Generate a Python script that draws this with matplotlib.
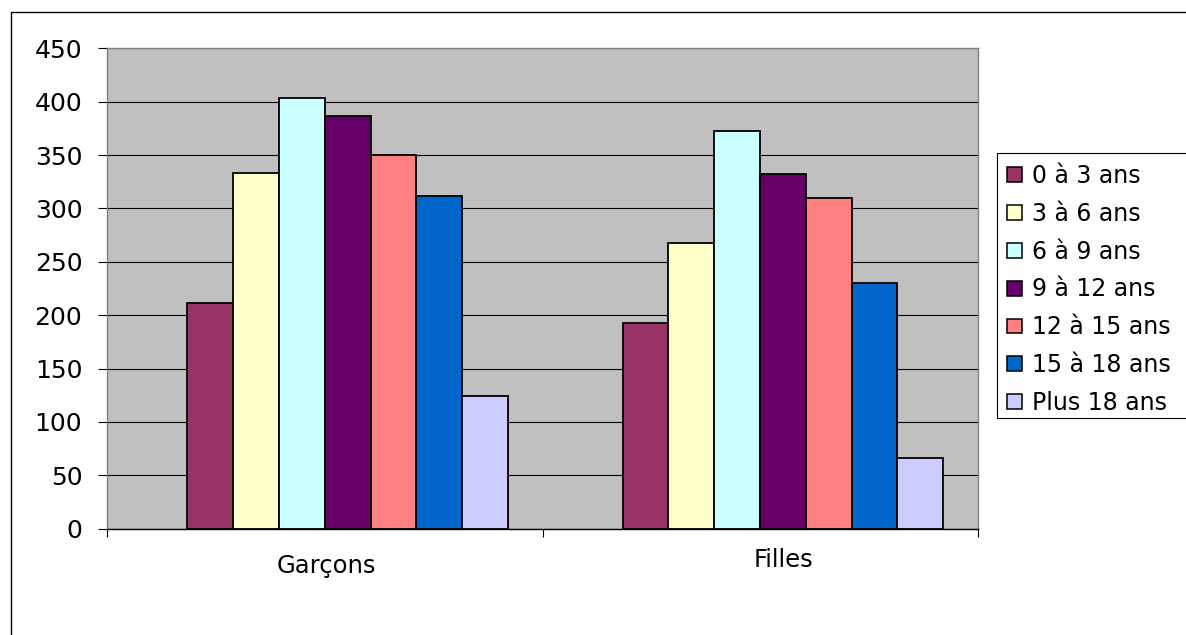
import numpy as np
import matplotlib
matplotlib.use("Agg")
import matplotlib.pyplot as plt
from matplotlib.patches import Rectangle

# effectifs par sexe et tranche d'age
categories = ["Garçons", "Filles"]
tranches = ["0 à 3 ans", "3 à 6 ans", "6 à 9 ans", "9 à 12 ans",
            "12 à 15 ans", "15 à 18 ans", "Plus 18 ans"]
garcons = [211, 333, 403, 387, 350, 312, 124]
filles = [193, 268, 373, 332, 310, 230, 66]
yticks = [0, 50, 100, 150, 200, 250, 300, 350, 400, 450]

colors = ["#993366", "#FFFFCC", "#CCFFFF", "#660066",
          "#FF8080", "#0066CC", "#CCCCFF"]

W, H, DPI = 1186, 635, 100
plt.rcParams['font.family'] = ['DejaVu Sans']

fig = plt.figure(figsize=(W / DPI, H / DPI), dpi=DPI)
fig.patch.set_facecolor("white")

# zone de tracé (pixels -> fractions)
left, right, top, bottom = 107.3, 977.7, 48.3, 528.7
ax = fig.add_axes([left / W, 1 - bottom / H, (right - left) / W, (bottom - top) / H])
ax.set_facecolor("#C0C0C0")

# barres groupees, largeur et decalage exprimes en fraction de categorie
bar_w = 45.8 / 435.2
group_off = 80.0 / 435.2
values = np.array([garcons, filles])
for k, lab in enumerate(tranches):
    xs = np.arange(len(categories)) + group_off + k * bar_w
    ax.bar(xs, values[:, k], width=bar_w, align="edge", color=colors[k],
           edgecolor="black", linewidth=1.3, label=lab, zorder=3)

ax.set_xlim(0, len(categories))
ax.set_ylim(0, 450)
ax.set_yticks(yticks)
ax.yaxis.grid(True, color="black", linewidth=0.8, zorder=1)
ax.set_axisbelow(True)
ax.tick_params(axis="y", direction="out", length=6.5, width=0.8, pad=11.5,
               labelsize=18, colors="black")
ax.set_xticks(range(len(categories) + 1))
ax.set_xticklabels([])
ax.tick_params(axis="x", direction="out", length=5.8, width=0.8)

for side in ["top", "right", "left"]:
    ax.spines[side].set_color("#808080")
    ax.spines[side].set_linewidth(1.0)
ax.spines["bottom"].set_color("black")
ax.spines["bottom"].set_linewidth(1.0)
ax.spines["bottom"].set_zorder(4)

# etiquettes de categories (decalages en pixels)
label_offsets = [(1.3, -44.6), (23.5, -38.0)]
for i, (name, (dx, dy)) in enumerate(zip(categories, label_offsets)):
    ax.annotate(name, xy=(i + 0.5, 0), xycoords="data",
                xytext=(dx * 0.72, dy * 0.72), textcoords="offset points",
                ha="center", va="baseline", fontsize=17.5, color="black")

# legende
leg = fig.legend(loc="upper left", bbox_to_anchor=(1006.7 / W, 1 - 164 / H),
                 frameon=False, fontsize=17, handlelength=0.64,
                 handleheight=0.59, handletextpad=0.42, labelspacing=0.585,
                 borderpad=0, borderaxespad=0)
for h in leg.legend_handles:
    h.set_edgecolor("black")
    h.set_linewidth(1.1)

# cadre de la legende et cadre general
fig.patches.append(Rectangle((997.3 / W, 1 - 418.3 / H), 0.3, (418.3 - 153.3) / H,
                             transform=fig.transFigure, fill=False,
                             edgecolor="black", linewidth=0.8))
fig.patches.append(Rectangle((10.5 / W, -0.1), 1.2, 1.1 - 12.3 / H,
                             transform=fig.transFigure, fill=False,
                             edgecolor="black", linewidth=1.0))

fig.savefig("out.png", dpi=DPI, facecolor="white")
